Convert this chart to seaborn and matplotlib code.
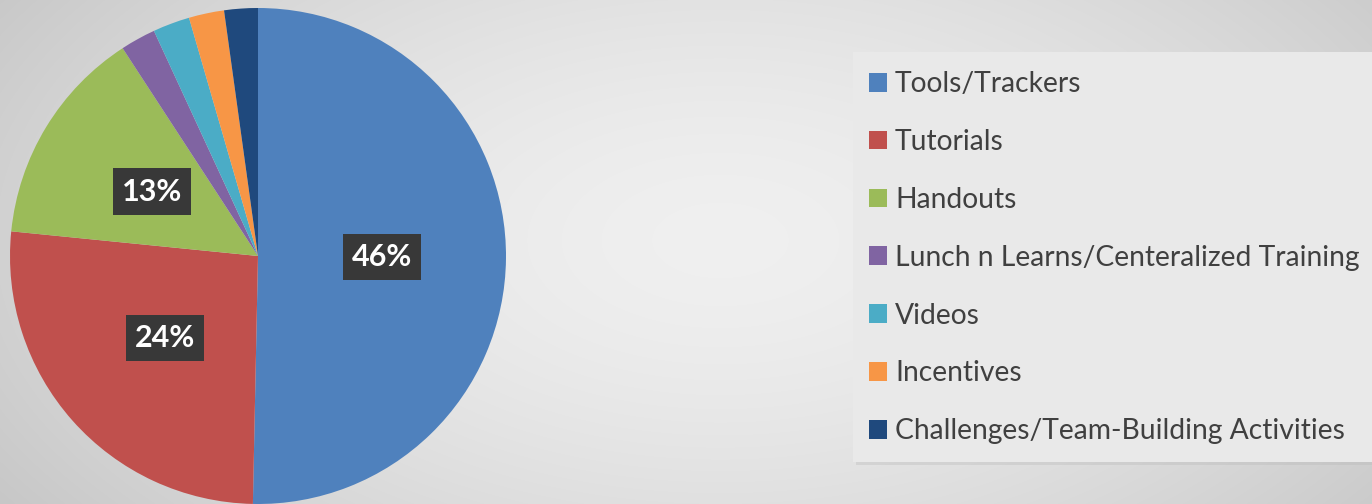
import numpy as np
import matplotlib
matplotlib.use("Agg")
import matplotlib.pyplot as plt
import seaborn as sns
from matplotlib.patches import Rectangle

categories = ["Tools/Trackers", "Tutorials", "Handouts",
              "Lunch n Learns/Centeralized Training", "Videos",
              "Incentives", "Challenges/Team-Building Activities"]
values = [46, 24, 13, 2.1, 2.2, 2.1, 2.0]
colors = ["#4F81BD", "#C0504D", "#9BBB59", "#8064A2", "#4BACC6", "#F79646", "#1F497D"]

sns.set_style("white")
plt.rcParams["font.family"] = ["Lato", "DejaVu Sans"]

W, H = 1372, 504
fig = plt.figure(figsize=(W / 100, H / 100), dpi=100)

# background radial gradient
bg = fig.add_axes([0, 0, 1, 1])
yy, xx = np.mgrid[0:H, 0:W]
d = np.sqrt(((xx - 720) / 760.0) ** 2 + ((yy - 240) / 420.0) ** 2)
g = np.clip(0.94 - 0.13 * d ** 1.6, 0.78, 1)
bg.imshow(np.dstack([g, g, g]), extent=[0, W, H, 0], aspect="auto")
bg.set_xlim(0, W)
bg.set_ylim(H, 0)
bg.axis("off")

# legend panel
bg.add_patch(Rectangle((856, 55), 530, 410, facecolor="#b8b8b8", alpha=0.35, edgecolor="none"))
bg.add_patch(Rectangle((853, 52), 530, 410, facecolor="#e9e9e9", edgecolor="none"))

cx, cy, r = 258, 256, 248
ax = fig.add_axes([(cx - r) / W, (H - cy - r) / H, 2 * r / W, 2 * r / H])
total = sum(values)
palette = sns.color_palette(colors)


def fmt(p):
    v = p * total / 100.0
    return f"{v:.0f}%" if v >= 5 else ""


wedges, texts, autotexts = ax.pie(values, colors=palette, startangle=90, counterclock=False,
                                  autopct=fmt, pctdistance=0.5,
                                  wedgeprops=dict(linewidth=0))
for t in autotexts:
    t.set_color("white")
    t.set_fontsize(22)
    t.set_fontweight("bold")
    if t.get_text():
        t.set_bbox(dict(boxstyle="square,pad=0.3", facecolor="#383838", edgecolor="none"))
ax.set_xlim(-1, 1)
ax.set_ylim(-1, 1)
ax.set_aspect("equal")
ax.axis("off")

# legend
handles = [Rectangle((0, 0), 1, 1, facecolor=c, edgecolor="none") for c in palette]
leg = fig.legend(handles, categories, loc="upper left",
                 bbox_to_anchor=(855 / W, 1 - 57 / H), frameon=False,
                 fontsize=20.3, handlelength=0.64, handleheight=0.64,
                 handletextpad=0.28, labelspacing=1.13, borderpad=0)
for t in leg.get_texts():
    t.set_color("#404040")

fig.savefig("out.png", dpi=100)
